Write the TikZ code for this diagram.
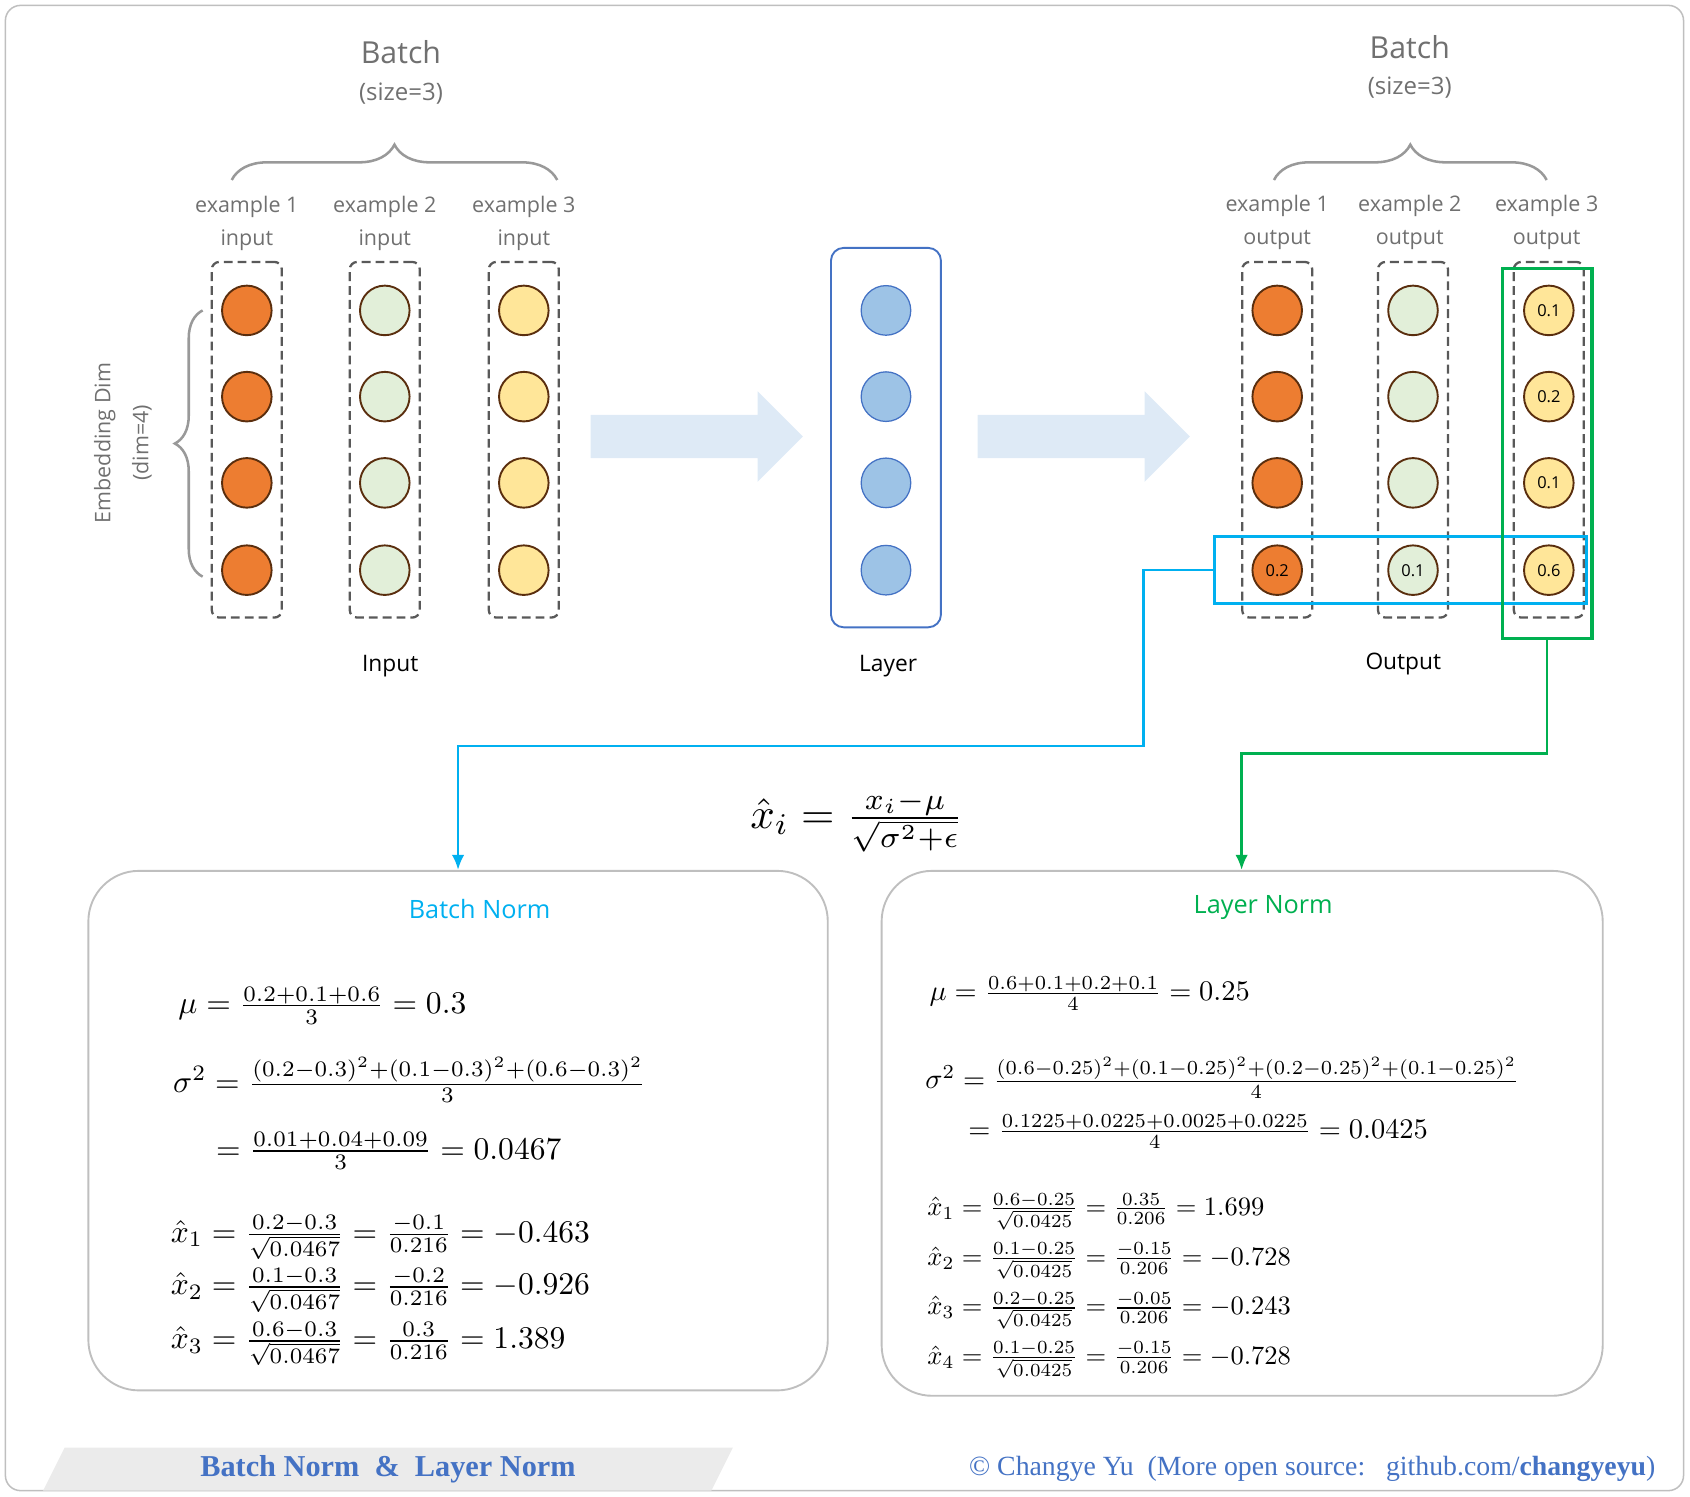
\documentclass[tikz,border=0pt]{standalone}
\usepackage{amsmath}
\usepackage{fontspec}
\setmainfont{Open Sans}
\newfontfamily\serifb{Liberation Serif}
\usetikzlibrary{arrows.meta,decorations.pathreplacing,calc}
\definecolor{cor}{HTML}{ED7D31}
\definecolor{cgr}{HTML}{E2EFD9}
\definecolor{cye}{HTML}{FFE699}
\definecolor{cbl}{HTML}{9DC3E6}
\definecolor{cbd}{HTML}{4472C4}
\definecolor{bdr}{HTML}{5A2E0E}
\definecolor{cyan2}{HTML}{00B0F0}
\definecolor{grn2}{HTML}{00B050}
\definecolor{arr}{HTML}{DEEAF6}
\definecolor{txg}{HTML}{707070}
\definecolor{ftb}{HTML}{4472C4}
\begin{document}
\begin{tikzpicture}[x=0.03cm,y=-0.03cm,
 neu/.style={circle,draw=bdr,line width=1.5pt,minimum size=1.38cm,inner sep=0pt,font=\fontsize{13}{14}\selectfont},
 lneu/.style={circle,draw=cbd,line width=1pt,fill=cbl,minimum size=1.38cm},
 col/.style={draw=black!65,dash pattern=on 7pt off 4pt,line width=1.8pt,rounded corners=6pt},
 lbl/.style={text=txg,font=\fontsize{17}{26}\selectfont,align=center},
 big/.style={font=\fontsize{18}{20}\selectfont},
 m/.style={anchor=west,scale=2.5,transform shape,inner sep=0pt},
 ml/.style={anchor=west,scale=2.25,transform shape,inner sep=0pt},
 mx/.style={anchor=west,scale=2.1,transform shape,inner sep=0pt},
 brc/.style={draw=black!40,line width=2pt,decorate,decoration={brace,amplitude=28pt,aspect=0.5}},
 fat/.style={fill=arr}]
\useasboundingbox (0,0) rectangle (1568,1388);
\draw[black!25,line width=1.2pt,rounded corners=12pt] (5,5) rectangle (1562,1383);
% input columns
\foreach \x/\c/\n in {229/cor/a,357/cgr/b,486/cye/c}{
 \node[col,minimum width=1.95cm,minimum height=9.9cm] (box\n) at (\x,408) {};
 \foreach \y/\r in {288/1,368/2,448/3,529/4}
  \node[neu,fill=\c] (i\n\r) at (\x,\y) {};
}
\node[lbl] (e1) at (229,207) {example 1\\input};
\node[lbl] (e2) at (357,207) {example 2\\input};
\node[lbl] (e3) at (486,207) {example 3\\input};
\coordinate (bl) at (215,167); \coordinate (br) at (517,167);
\draw[brc] (bl) -- (br);
\node[lbl,font=\fontsize{24}{26}\selectfont] (bt1) at (372,48) {Batch};
\node[lbl,font=\fontsize{19}{20}\selectfont] (bs1) at (372,87) {(size=3)};
\coordinate (lb) at (188,535); \coordinate (lt) at (188,288);
\draw[brc,decoration={amplitude=22pt}] (lb) -- (lt);
\node[lbl,rotate=90,font=\fontsize{17}{30}\selectfont] (emb) at (114,411) {Embedding Dim\\(dim=4)};
\node[big] (inl) at (362,618) {Input};
% layer
\node[draw=cbd,line width=1.5pt,rounded corners=10pt,minimum width=3.06cm,minimum height=10.56cm] (lay) at (822,406) {};
\foreach \y/\r in {288/1,368/2,448/3,529/4}
 \node[lneu] (l\r) at (822,\y) {};
\node[big] (layl) at (824,618) {Layer};
% big arrows
\fill[fat] (548,385) -- (703,385) -- (703,363) -- (745,405) -- (703,447) -- (703,425) -- (548,425) -- cycle;
\fill[fat] (907,385) -- (1062,385) -- (1062,363) -- (1104,405) -- (1062,447) -- (1062,425) -- (907,425) -- cycle;
% output columns
\foreach \x/\c/\n in {1185/cor/a,1311/cgr/b,1437/cye/c}{
 \node[col,minimum width=1.95cm,minimum height=9.9cm] (obox\n) at (\x,408) {};
}
\node[neu,fill=cor] (oa1) at (1185,288) {};
\node[neu,fill=cor] (oa2) at (1185,368) {};
\node[neu,fill=cor] (oa3) at (1185,448) {};
\node[neu,fill=cor] (oa4) at (1185,529) {0.2};
\node[neu,fill=cgr] (ob1) at (1311,288) {};
\node[neu,fill=cgr] (ob2) at (1311,368) {};
\node[neu,fill=cgr] (ob3) at (1311,448) {};
\node[neu,fill=cgr] (ob4) at (1311,529) {0.1};
\node[neu,fill=cye] (oc1) at (1437,288) {0.1};
\node[neu,fill=cye] (oc2) at (1437,368) {0.2};
\node[neu,fill=cye] (oc3) at (1437,448) {0.1};
\node[neu,fill=cye] (oc4) at (1437,529) {0.6};
\node[lbl] (f1) at (1185,206) {example 1\\output};
\node[lbl] (f2) at (1308,206) {example 2\\output};
\node[lbl] (f3) at (1435,206) {example 3\\output};
\coordinate (obl) at (1182,167); \coordinate (obr) at (1435,167);
\draw[brc] (obl) -- (obr);
\node[lbl,font=\fontsize{24}{26}\selectfont] (bt2) at (1308,44) {Batch};
\node[lbl,font=\fontsize{19}{20}\selectfont] (bs2) at (1308,81) {(size=3)};
\node[big] (outl) at (1302,616) {Output};
% highlight rects
\node[draw=cyan2,line width=2.5pt,minimum width=10.35cm,minimum height=1.86cm,inner sep=0pt] (brect) at (1299.5,529) {};
\node[draw=grn2,line width=2.5pt,minimum width=2.49cm,minimum height=10.29cm,inner sep=0pt] (grect) at (1435.5,420.5) {};
% boxes
\node[draw=black!25,line width=1.5pt,rounded corners=40pt,minimum width=20.58cm,minimum height=14.46cm] (bn) at (425,1049) {};
\node[draw=black!25,line width=1.5pt,rounded corners=40pt,minimum width=20.07cm,minimum height=14.61cm] (ln) at (1152.5,1051.5) {};
\node[text=cyan2,font=\fontsize{20}{22}\selectfont] (bnt) at (445,843) {Batch Norm};
\node[text=grn2,font=\fontsize{20}{22}\selectfont] (lnt) at (1172,842) {Layer Norm};
% connectors
\draw[cyan2,line width=2pt,-{Latex[length=12pt,width=10pt]}] (brect.west) -| (1061,692) -| (bn.north -| 425,0);
\draw[grn2,line width=2pt,-{Latex[length=12pt,width=10pt]}] (grect.south) |- (1152,699) -- (ln.north -| 1152,0);
% main formula
\node[scale=3.4,transform shape] (fm) at (795,762) {$\hat{x}_i=\frac{x_i-\mu}{\sqrt{\sigma^2+\epsilon}}$};
% BN formulas
\node[m] (b1) at (165,933) {$\mu=\frac{0.2+0.1+0.6}{3}=0.3$};
\node[m] (b2) at (160,1002) {$\sigma^2=\frac{(0.2-0.3)^2+(0.1-0.3)^2+(0.6-0.3)^2}{3}$};
\node[m] (b3) at (200,1068) {$=\frac{0.01+0.04+0.09}{3}=0.0467$};
\node[m] (b4) at (158,1148) {$\hat{x}_1=\frac{0.2-0.3}{\sqrt{0.0467}}=\frac{-0.1}{0.216}=-0.463$};
\node[m] (b5) at (158,1197) {$\hat{x}_2=\frac{0.1-0.3}{\sqrt{0.0467}}=\frac{-0.2}{0.216}=-0.926$};
\node[m] (b6) at (158,1247) {$\hat{x}_3=\frac{0.6-0.3}{\sqrt{0.0467}}=\frac{0.3}{0.216}=1.389$};
% LN formulas
\node[ml] (c1) at (862,922) {$\mu=\frac{0.6+0.1+0.2+0.1}{4}=0.25$};
\node[ml] (c2) at (858,1000) {$\sigma^2=\frac{(0.6-0.25)^2+(0.1-0.25)^2+(0.2-0.25)^2+(0.1-0.25)^2}{4}$};
\node[ml] (c3) at (898,1050) {$=\frac{0.1225+0.0225+0.0025+0.0225}{4}=0.0425$};
\node[mx] (c4) at (860,1124) {$\hat{x}_1=\frac{0.6-0.25}{\sqrt{0.0425}}=\frac{0.35}{0.206}=1.699$};
\node[mx] (c5) at (860,1170) {$\hat{x}_2=\frac{0.1-0.25}{\sqrt{0.0425}}=\frac{-0.15}{0.206}=-0.728$};
\node[mx] (c6) at (860,1216) {$\hat{x}_3=\frac{0.2-0.25}{\sqrt{0.0425}}=\frac{-0.05}{0.206}=-0.243$};
\node[mx] (c7) at (860,1262) {$\hat{x}_4=\frac{0.1-0.25}{\sqrt{0.0425}}=\frac{-0.15}{0.206}=-0.728$};
% footer
\fill[black!8] (60,1343) -- (680,1343) -- (660,1383) -- (40,1383) -- cycle;
\node[text=ftb,font=\serifb\bfseries\fontsize{24}{26}\selectfont] (ft1) at (360,1363) {Batch Norm \ \&\ \ Layer Norm};
\node[text=ftb,font=\serifb\fontsize{22}{24}\selectfont,anchor=east] (ft2) at (1540,1363) {© Changye Yu\ \ (More open source:\ \ \ github.com/\textbf{changyeyu})};
\end{tikzpicture}
\end{document}
